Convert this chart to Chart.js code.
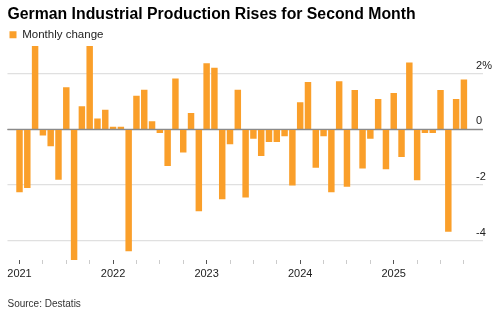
<!DOCTYPE html>
<html>
<head>
<meta charset="utf-8">
<script src="https://cdn.jsdelivr.net/npm/chart.js@4/dist/chart.umd.min.js"></script>
<style>
  html, body { margin: 0; padding: 0; background: #ffffff; }
  canvas { display: block; }
</style>
</head>
<body>
<canvas id="c" width="500" height="317"></canvas>
<script>
// ---- Data ----
const titleText = 'German Industrial Production Rises for Second Month';
const seriesName = 'Monthly change';
const sourceText = 'Source: Destatis';

const months = [
  '2021-01','2021-02','2021-03','2021-04','2021-05','2021-06','2021-07','2021-08','2021-09','2021-10','2021-11','2021-12',
  '2022-01','2022-02','2022-03','2022-04','2022-05','2022-06','2022-07','2022-08','2022-09','2022-10','2022-11','2022-12',
  '2023-01','2023-02','2023-03','2023-04','2023-05','2023-06','2023-07','2023-08','2023-09','2023-10','2023-11','2023-12',
  '2024-01','2024-02','2024-03','2024-04','2024-05','2024-06','2024-07','2024-08','2024-09','2024-10','2024-11','2024-12',
  '2025-01','2025-02','2025-03','2025-04','2025-05','2025-06','2025-07','2025-08','2025-09','2025-10'
];

const monthlyChange = [
  -2.25, -2.1, 3.0, -0.21, -0.6, -1.8, 1.5, -4.69, 0.82, 3.0, 0.38, 0.69,
  0.08, 0.08, -4.37, 1.2, 1.41, 0.28, -0.12, -1.31, 1.82, -0.82, 0.58, -2.93,
  2.37, 2.2, -2.5, -0.52, 1.41, -2.44, -0.33, -0.95, -0.44, -0.44, -0.24, -2.01,
  0.96, 1.69, -1.37, -0.24, -2.25, 1.72, -2.05, 1.4, -1.4, -0.33, 1.08, -1.42,
  1.3, -0.98, 2.39, -1.82, -0.12, -0.12, 1.4, -3.67, 1.08, 1.78
];

const yearLabels = ['2021', '2022', '2023', '2024', '2025'];
const yTickValues = [-4, -2, 0, 2];
const yTickLabels = ['-4', '-2', '0', '2%'];

// ---- Chart ----
const FONT = "'Liberation Sans', Arial, Helvetica, sans-serif";
const monthIdx = months.map((m, i) => i);
const quarterTicks = monthIdx.filter(i => i % 3 === 0);

const zeroLinePlugin = {
  id: 'zeroLine',
  afterDatasetsDraw(chart) {
    const y = chart.scales.y.getPixelForValue(0);
    const ctx = chart.ctx;
    ctx.save();
    ctx.strokeStyle = '#8a8a8a';
    ctx.lineWidth = 1.2;
    ctx.beginPath();
    ctx.moveTo(chart.chartArea.left, y);
    ctx.lineTo(chart.chartArea.right, y);
    ctx.stroke();
    ctx.restore();
  }
};

new Chart(document.getElementById('c'), {
  type: 'bar',
  data: {
    datasets: [{
      label: seriesName,
      data: monthlyChange.map((v, i) => ({ x: monthIdx[i], y: v })),
      backgroundColor: '#fa9f2a',
      borderWidth: 0,
      barThickness: 5.8
    }]
  },
  plugins: [zeroLinePlugin],
  options: {
    responsive: false,
    devicePixelRatio: 1,
    animation: false,
    layout: { padding: { left: 7.5, right: 0, top: 0, bottom: 0 } },
    plugins: {
      title: {
        display: true,
        text: titleText,
        align: 'start',
        color: '#000000',
        font: { family: FONT, size: 15.8, weight: 'bold', lineHeight: 1.2 },
        padding: { top: 5.0, bottom: 3.0 }
      },
      legend: {
        display: true,
        align: 'start',
        maxHeight: 19,
        labels: {
          boxWidth: 7,
          boxHeight: 7,
          padding: 2,
          color: '#222222',
          font: { family: FONT, size: 11.5 }
        }
      },
      subtitle: {
        display: true,
        position: 'bottom',
        text: sourceText,
        align: 'start',
        color: '#333333',
        font: { family: FONT, size: 10, lineHeight: 1.2 },
        padding: { top: 14.8, bottom: 7 }
      },
      tooltip: { enabled: false }
    },
    scales: {
      x: {
        type: 'linear',
        position: 'bottom',
        offset: false,
        min: -1.54,
        max: 59.41,
        afterBuildTicks: (axis) => { axis.ticks = quarterTicks.map(v => ({ value: v })); },
        grid: {
          offset: false,
          drawOnChartArea: false,
          drawTicks: true,
          tickLength: 4,
          tickWidth: 1,
          tickColor: (c) => (c.tick && c.tick.value % 12 === 0) ? '#555555' : '#cccccc'
        },
        border: { display: false },
        ticks: {
          autoSkip: false,
          maxRotation: 0,
          padding: 3,
          color: '#222222',
          font: { family: FONT, size: 11 },
          callback: (v) => (v % 12 === 0) ? yearLabels[v / 12] : ''
        }
      },
      y: {
        position: 'right',
        min: -4.7,
        max: 3.0,
        afterBuildTicks: (axis) => { axis.ticks = yTickValues.map(v => ({ value: v })); },
        afterFit: (axis) => { axis.width = 17.3; },
        grid: {
          drawTicks: false,
          color: (c) => (c.tick && c.tick.value === 0) ? '#8a8a8a' : '#e0e0e0',
          lineWidth: 1.2
        },
        border: { display: false },
        ticks: {
          mirror: true,
          crossAlign: 'far',
          padding: 9.3,
          labelOffset: -8,
          color: '#222222',
          font: { family: FONT, size: 11 },
          callback: (v) => yTickLabels[yTickValues.indexOf(v)]
        }
      }
    }
  }
});
</script>
</body>
</html>
